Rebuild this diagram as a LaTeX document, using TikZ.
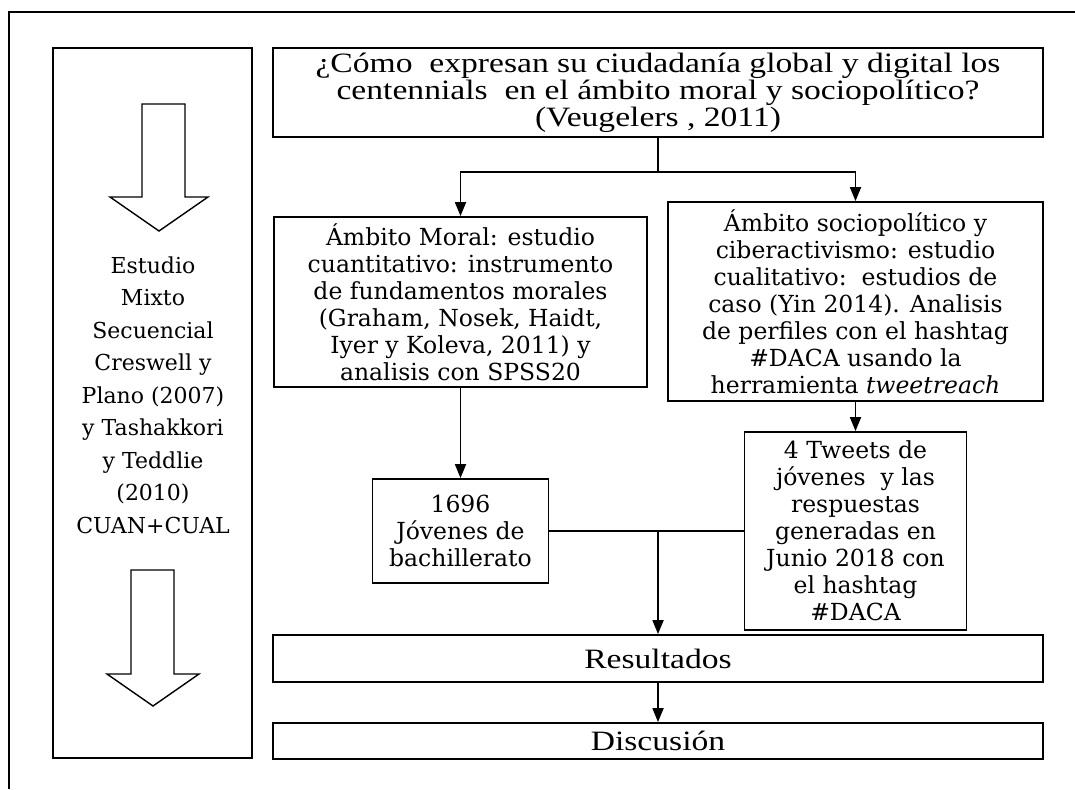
\documentclass[tikz,border=0pt]{standalone}
\usepackage{fontspec}
\setmainfont{DejaVu Serif}
\newfontfamily\pregfont[FakeStretch=1.2]{Liberation Serif}
\usepackage{tikz}
\usetikzlibrary{arrows.meta, positioning, calc}

\begin{document}
\begin{tikzpicture}[x=1pt, y=-1pt,
        caja/.style={draw, line width=1.8, inner sep=0pt, align=center, font=\fontsize{23.5}{27}\selectfont},
        flecha/.style={-{Stealth[length=14pt, width=11pt, inset=0pt]}, line width=1.8},
        linea/.style={line width=1.8}]
            \useasboundingbox (0,0) rectangle (1075,789);
            % Marco
            \draw[line width=1.8] (9,789) -- (9,12) -- (1075,12);
            
            % Metodo (columna izquierda)
            \node[caja, minimum width=199, minimum height=710] (metodo) at (152.5,403) {};
            \node[align=center, font=\fontsize{22}{32.5}\selectfont] (mixto) at (153,395) {Estudio\\Mixto\\Secuencial\\Creswell y\\Plano (2007)\\y Tashakkori\\y Teddlie\\(2010)\\CUAN+CUAL};
            \draw[line width=1.4] (142,104) -- (185,104) -- (185,197) -- (208,197) -- (159,231) -- (110,197) -- (142,197) -- cycle;
            \draw[line width=1.4] (131,570) -- (174,570) -- (174,674) -- (199,674) -- (153,706) -- (107,674) -- (131,674) -- cycle;
            
            % Pregunta
            \node[caja, minimum width=770, minimum height=89, font=\pregfont\fontsize{28}{27}\selectfont] (pregunta) at (658,92.5) {¿Cómo\ \ expresan su ciudadanía global y digital los\\centennials\ \ en el ámbito moral y sociopolítico?\\(Veugelers , 2011)};
            
            % Ambitos
            \node[caja, minimum width=373, minimum height=170] (moral) at (460.5,302) {Ámbito Moral: estudio\\cuantitativo: instrumento\\de fundamentos morales\\(Graham, Nosek, Haidt,\\Iyer y Koleva, 2011) y\\analisis con SPSS20};
            \node[caja, minimum width=375, minimum height=199] (socio) at (855.5,301.5) {Ámbito sociopolítico y\\ciberactivismo: estudio\\cualitativo:\ \ estudios de\\caso (Yin 2014). Analisis\\de perfiles con el hashtag\\\#DACA usando la\\herramienta \textit{tweetreach}};
            
            % Muestras
            \node[caja, minimum width=176, minimum height=104] (jovenes) at (460.5,531) {1696\\Jóvenes de\\bachillerato};
            \node[caja, minimum width=222, minimum height=198] (tweets) at (855.5,531) {4 Tweets de\\jóvenes\ \ y las\\respuestas\\generadas en\\Junio 2018 con\\el hashtag\\\#DACA};
            
            % Resultados y discusion
            \node[caja, minimum width=770, minimum height=47, font=\pregfont\fontsize{28}{27}\selectfont] (resultados) at (658,658.5) {Resultados};
            \node[caja, minimum width=770, minimum height=36, font=\pregfont\fontsize{28}{27}\selectfont] (discusion) at (658,741) {Discusión};
            
            % Conectores
            \coordinate (rama) at (658,172);
            \coordinate (union) at (658,531);
            \draw[linea] (pregunta.south) -- (rama);
            \draw[flecha] (rama) -| (moral.north);
            \draw[flecha] (rama) -| (socio.north);
            \draw[flecha] (moral.south) -- (jovenes.north);
            \draw[flecha] (socio.south) -- (tweets.north);
            \draw[linea] (jovenes.east) -- (tweets.west);
            \draw[flecha] (union) -- (resultados.north);
            \draw[flecha] (resultados.south) -- (discusion.north);
        \end{tikzpicture}
\end{document}
